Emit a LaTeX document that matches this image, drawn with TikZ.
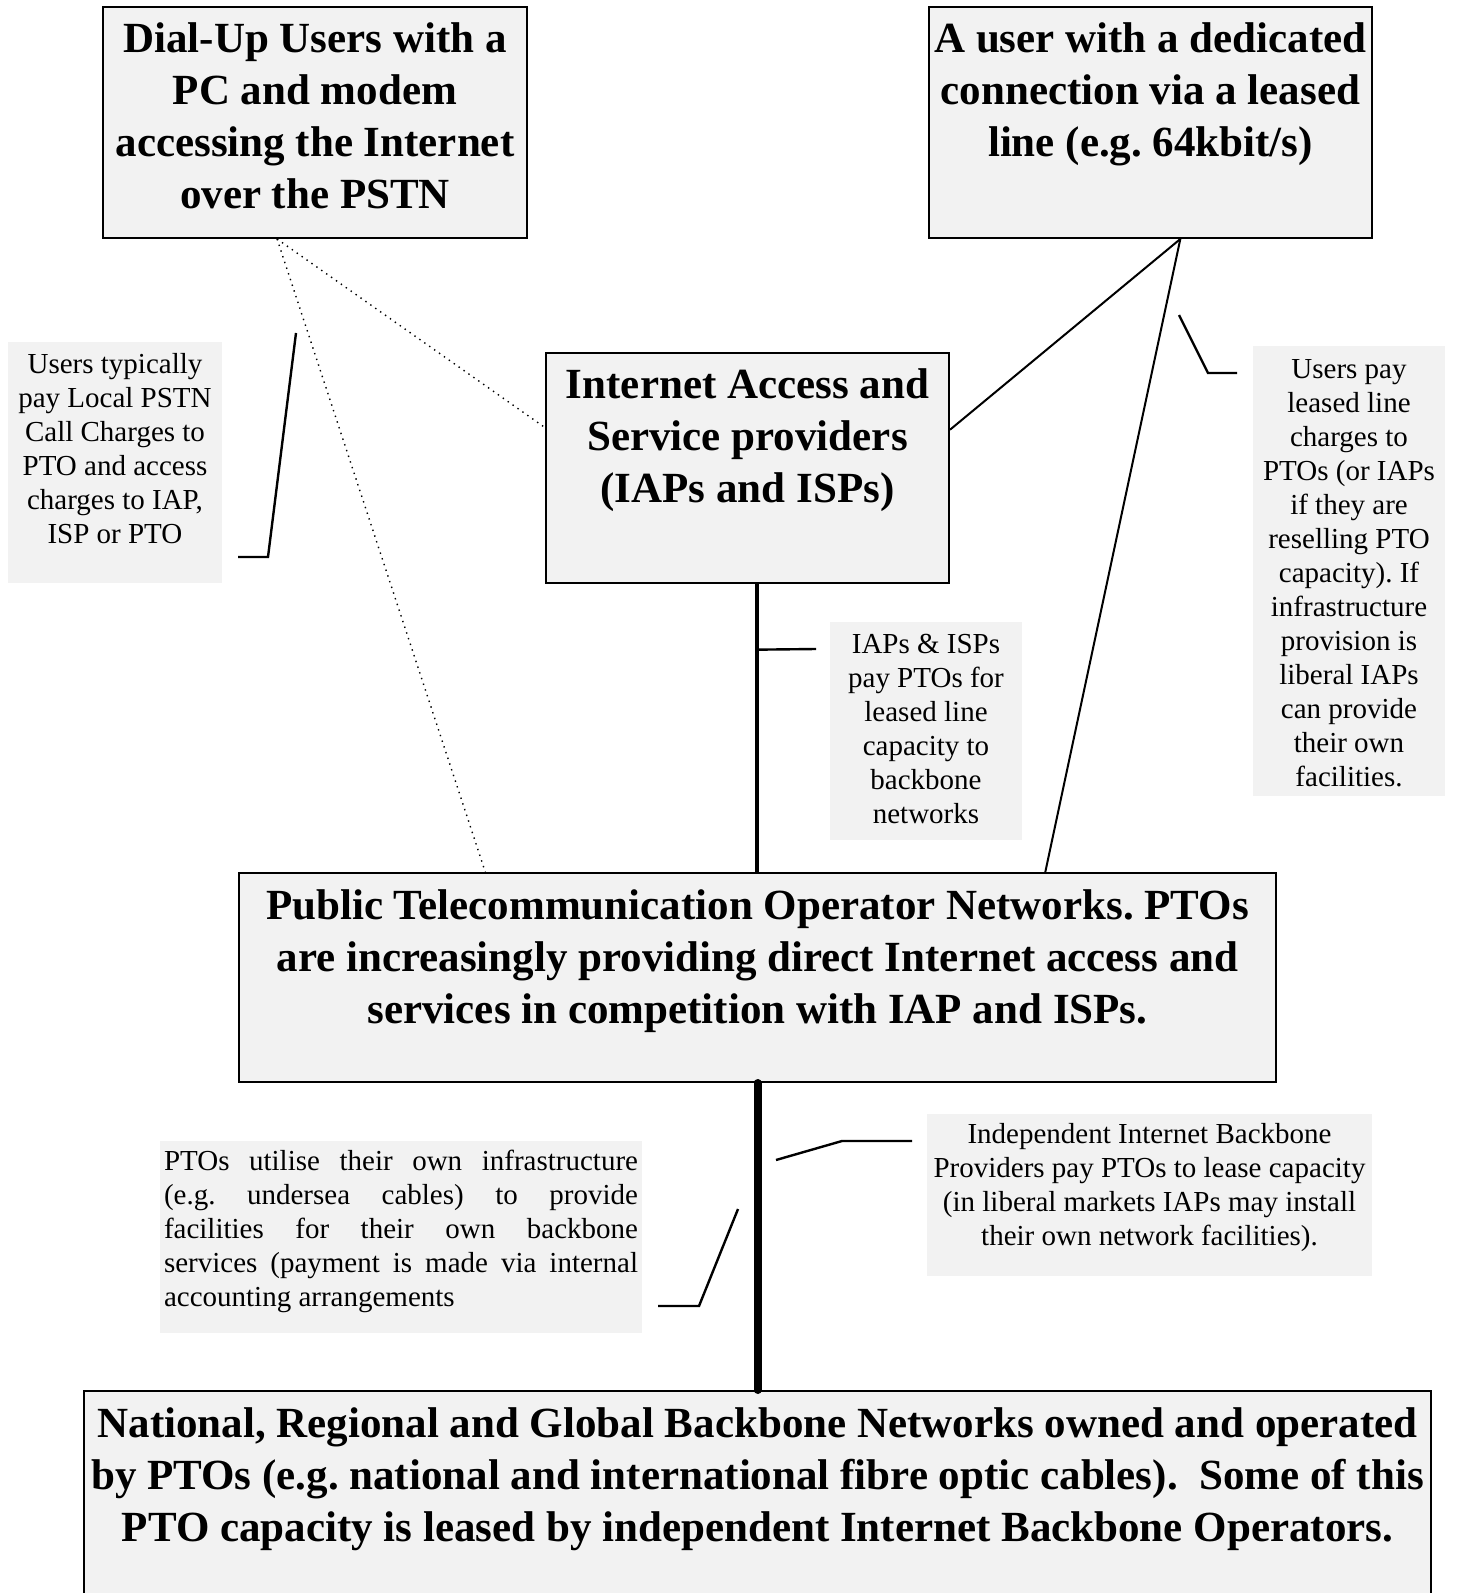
\documentclass[tikz,border=0pt]{standalone}
\usepackage{fontspec}
\setmainfont{Liberation Serif}
\usepackage{tikz}
\usetikzlibrary{calc}
\definecolor{boxgray}{HTML}{F2F2F2}
\frenchspacing

\newcommand{\inbox}[4]{\parbox[c][#1][t]{#2}{\centering\rule{0pt}{#3}#4}}

\begin{document}
\begin{tikzpicture}[x=0.5pt,y=-0.5pt,semithick]
 \tikzstyle{main node}=[rectangle,draw,fill=boxgray,line width=1pt,inner sep=0,font=\fontsize{21.5}{26}\selectfont\bfseries]
 \tikzstyle{note node}=[rectangle,fill=boxgray,inner sep=0,font=\fontsize{14.5}{17}\selectfont]
 \tikzset{
 	call line/.style={line width=1.2pt},
 	link line/.style={line width=1pt},
 	dot line/.style={line width=0.7pt,dash pattern=on 0.7pt off 2.3pt},
 	pipe line/.style={line width=2pt},
 	trunk line/.style={line width=4pt,line cap=round}
 }

 \useasboundingbox (0,0) rectangle (1458,1593);
 \clip (0,0) rectangle (1458,1593);
 \fill[white] (0,0) rectangle (1458,1593);

       \node[main node] (dial) at (315,122.5) {\inbox{115.5pt}{212pt}{23pt}{Dial-Up Users with a\\PC and modem\\accessing the Internet\\over the PSTN}};
       \node[main node] (lease) at (1150.5,122.5) {\inbox{115.5pt}{221.5pt}{23pt}{A user with a dedicated\\connection via a leased\\line (e.g. 64kbit/s)}};
       \node[main node] (isp) at (747.5,468) {\inbox{115pt}{201.5pt}{23pt}{Internet Access and\\Service providers\\(IAPs and ISPs)}};
       \node[main node] (pto) at (757.5,977.5) {\inbox{104.5pt}{518.5pt}{23pt}{Public Telecommunication Operator Networks. PTOs\\are increasingly providing direct Internet access and\\services in competition with IAP and ISPs.}};
       \node[main node] (bb) at (757.5,1506) {\inbox{115pt}{673.5pt}{23pt}{National, Regional and Global Backbone Networks owned and operated\\by PTOs (e.g. national and international fibre optic cables).\ \ Some of this\\PTO capacity is leased by independent Internet Backbone Operators.}};

       \node[note node] (n1) at (115,462.5) {\inbox{120.5pt}{107pt}{15.5pt}{Users typically\\pay Local PSTN\\Call Charges to\\PTO and access\\charges to IAP,\\ISP or PTO}};
       \node[note node] (n2) at (1349,571) {\inbox{225pt}{96pt}{16pt}{Users pay\\leased line\\charges to\\PTOs (or IAPs\\if they are\\reselling PTO\\capacity). If\\infrastructure\\provision is\\liberal IAPs\\can provide\\their own\\facilities.}};
       \node[note node] (n3) at (926,731) {\inbox{109pt}{96pt}{15.5pt}{IAPs \& ISPs\\pay PTOs for\\leased line\\capacity to\\backbone\\networks}};
       \node[note node,inner xsep=2pt] (n4) at (401,1237) {\parbox[c][96pt][t]{237pt}{\rule{0pt}{14.5pt}PTOs utilise their own infrastructure\linebreak (e.g. undersea cables) to provide\linebreak facilities for their own backbone\linebreak services (payment is made via internal\linebreak accounting arrangements}};
       \node[note node] (n5) at (1149.5,1195) {\inbox{81pt}{222.5pt}{14.5pt}{Independent Internet Backbone\\Providers pay PTOs to lease capacity\\(in liberal markets IAPs may install\\their own network facilities).}};

       % end points on the box borders
       \coordinate (d0) at ($(dial.south west)!0.411!(dial.south east)$);
       \coordinate (i0) at ($(isp.north west)!0.326!(isp.south west)$);
       \coordinate (p0) at ($(pto.north west)!0.238!(pto.north east)$);
       \coordinate (l0) at ($(lease.south west)!0.567!(lease.south east)$);
       \coordinate (i1) at ($(isp.north east)!0.335!(isp.south east)$);
       \coordinate (p1) at ($(pto.north west)!0.777!(pto.north east)$);
       \coordinate (i2) at ($(isp.south west)!0.524!(isp.south east)$);
       \coordinate (p2) at ($(pto.south west)!0.5!(pto.south east)$);

     \path[dot line]  (d0) edge (i0);
     \path[dot line]  (d0) edge (p0);
     \path[link line]  (l0) edge (i1);
     \path[link line]  (l0) edge (p1);
     \path[pipe line]  (i2) edge (i2 |- pto.north);
     \path[trunk line]  (p2) edge (p2 |- bb.north);

       % callout hooks
       \coordinate (c1a) at (296,333);
       \coordinate (c1b) at (268,557);
       \coordinate (c1c) at (238,557);
       \coordinate (c2a) at (1179,315);
       \coordinate (c2b) at (1208,373);
       \coordinate (c2c) at (1237,373);
       \coordinate (c3a) at ($(i2)!0.228!(i2 |- pto.north)$);
       \coordinate (c3b) at (816,649);
       \coordinate (c4a) at (738,1209);
       \coordinate (c4b) at (699,1306);
       \coordinate (c4c) at (658,1306);
       \coordinate (c5a) at (776,1160);
       \coordinate (c5b) at (842,1141);
       \coordinate (c5c) at (912,1141);

     \draw[call line] (c1a) -- (c1b) -- (c1c);
     \draw[call line] (c2a) -- (c2b) -- (c2c);
     \draw[call line] (c3a) -- (c3b);
     \draw[call line] (c4a) -- (c4b) -- (c4c);
     \draw[call line] (c5a) -- (c5b) -- (c5c);
 \end{tikzpicture}
\end{document}
